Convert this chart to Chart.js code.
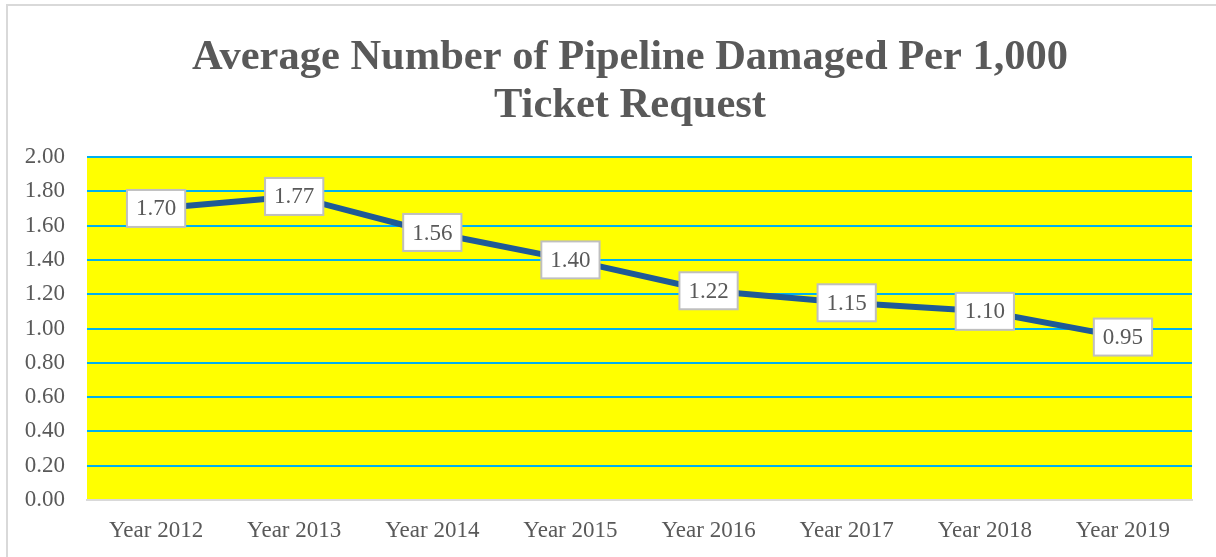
<!DOCTYPE html>
<html>
<head>
<meta charset="utf-8">
<script src="https://cdn.jsdelivr.net/npm/chart.js"></script>
<style>
  html, body { margin: 0; padding: 0; background: #fff; }
  #wrap { position: relative; width: 1216px; height: 557px; }
</style>
</head>
<body>
<div id="wrap"><canvas id="damageChart" width="1216" height="557"></canvas></div>
<script>
// Data
const years = ['Year 2012', 'Year 2013', 'Year 2014', 'Year 2015', 'Year 2016', 'Year 2017', 'Year 2018', 'Year 2019'];
const damagesPer1000 = [1.70, 1.77, 1.56, 1.40, 1.22, 1.15, 1.10, 0.95];
const titleLines = ['Average Number of Pipeline Damaged Per 1,000', 'Ticket Request'];

const SERIF = '"Liberation Serif", "Times New Roman", serif';
const GREY = '#595959';

// yellow plot area + outer frame
const backdrop = {
    id: 'backdrop',
    beforeDraw(chart) {
        const { ctx, chartArea: a } = chart;
        ctx.save();
        ctx.fillStyle = '#ffff00';
        ctx.fillRect(a.left, a.top, a.right - a.left, a.bottom - a.top);
        ctx.strokeStyle = '#d9d9d9';
        ctx.lineWidth = 2;
        ctx.beginPath();
        ctx.moveTo(7, chart.height);
        ctx.lineTo(7, 5);
        ctx.lineTo(chart.width, 5);
        ctx.stroke();
        ctx.restore();
    }
};

// title is centred a bit right of the canvas middle in the original,
// so it is drawn here rather than with the title plugin
const offsetTitle = {
    id: 'offsetTitle',
    afterDraw(chart) {
        const { ctx } = chart;
        ctx.save();
        ctx.font = 'bold 42.5px ' + SERIF;
        ctx.fillStyle = GREY;
        ctx.textAlign = 'center';
        ctx.textBaseline = 'middle';
        titleLines.forEach((line, i) => ctx.fillText(line, 630, 58 + i * 47.6));
        ctx.restore();
    }
};

// boxed value labels centred on each point
const boxLabels = {
    id: 'boxLabels',
    afterDatasetsDraw(chart) {
        const { ctx } = chart;
        const meta = chart.getDatasetMeta(0);
        ctx.save();
        ctx.font = '23px ' + SERIF;
        ctx.textAlign = 'center';
        ctx.textBaseline = 'middle';
        meta.data.forEach((pt, i) => {
            const txt = damagesPer1000[i].toFixed(2);
            const w = ctx.measureText(txt).width + 18;
            const h = 37;
            ctx.fillStyle = '#ffffff';
            ctx.fillRect(pt.x - w / 2, pt.y - h / 2, w, h);
            ctx.strokeStyle = '#bfbfbf';
            ctx.lineWidth = 2;
            ctx.strokeRect(pt.x - w / 2, pt.y - h / 2, w, h);
            ctx.fillStyle = GREY;
            ctx.fillText(txt, pt.x, pt.y + 1);
        });
        ctx.restore();
    }
};

new Chart(document.getElementById('damageChart'), {
    type: 'line',
    data: {
        labels: years,
        datasets: [{
            data: damagesPer1000,
            borderColor: '#1f5a96',
            borderWidth: 6,
            pointRadius: 0,
            tension: 0,
            fill: false
        }]
    },
    options: {
        responsive: false,
        animation: false,
        layout: { padding: { left: 0, right: 24, top: 157, bottom: 0 } },
        plugins: {
            legend: { display: false },
            tooltip: { enabled: false },
            title: { display: false }
        },
        scales: {
            y: {
                min: 0,
                max: 2,
                ticks: {
                    stepSize: 0.2,
                    color: GREY,
                    padding: 22,
                    font: { family: SERIF, size: 23 },
                    callback: v => v.toFixed(2)
                },
                grid: {
                    drawTicks: false,
                    lineWidth: 2,
                    color: ctx => ctx.tick.value === 0 ? '#d9d9d9' : '#00b0f0'
                },
                border: { display: false },
                afterFit(scale) { scale.width = 87; }
            },
            x: {
                offset: true,
                ticks: {
                    color: GREY,
                    padding: 17,
                    maxRotation: 0,
                    font: { family: SERIF, size: 23 }
                },
                grid: { display: false, drawTicks: false },
                border: { display: true, color: '#d9d9d9', width: 2 },
                afterFit(scale) { scale.height = 57; }
            }
        }
    },
    plugins: [backdrop, boxLabels, offsetTitle]
});
</script>
</body>
</html>
